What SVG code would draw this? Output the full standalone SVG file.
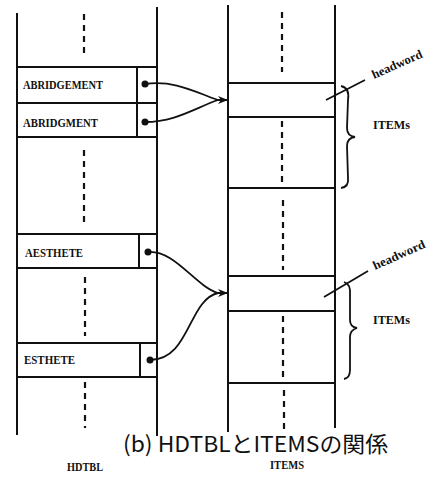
<svg xmlns="http://www.w3.org/2000/svg" width="439" height="477" viewBox="0 0 439 477">
<style>
.ln{stroke:#111;stroke-width:2;fill:none}
.ds{stroke:#111;stroke-width:2.2;fill:none;stroke-dasharray:6 5}
.cv{stroke:#111;stroke-width:1.8;fill:none}
.t{font-family:"Liberation Serif","DejaVu Serif",serif;font-weight:bold;font-size:12.5px;fill:#111}
.cap{font-family:"Noto Sans CJK JP",sans-serif;font-size:22px;fill:#111}
</style>
<defs>
<marker id="ah" viewBox="0 0 10 10" refX="9" refY="5" markerWidth="10" markerHeight="10" markerUnits="userSpaceOnUse" orient="auto">
<path d="M0,1 L10,5 L0,9 L3,5 Z" fill="#111"/>
</marker>
</defs>
<rect width="439" height="477" fill="#fff"/>
<g id="hdtbl">
<path class="ln" d="M17,13 V435 M157,7 V436"/>
<path class="ds" d="M84,14 V56 M84,150 V224 M85,277 V336 M85,382 V428"/>
<text class="t" x="67" y="471" textLength="36" lengthAdjust="spacingAndGlyphs">HDTBL</text>
</g>
<g id="abridgement">
<path class="ln" d="M17,67 H157 M17,103 H157 M137,67 V137"/>
<circle cx="145" cy="84" r="3.5" fill="#111"/>
<text class="t" x="23" y="89" textLength="80" lengthAdjust="spacingAndGlyphs">ABRIDGEMENT</text>
</g>
<g id="abridgment">
<path class="ln" d="M17,137 H157"/>
<circle cx="145" cy="122" r="3.5" fill="#111"/>
<text class="t" x="23" y="127" textLength="75" lengthAdjust="spacingAndGlyphs">ABRIDGMENT</text>
</g>
<g id="aesthete">
<path class="ln" d="M17,234 H157 M17,268 H157 M139,234 V268"/>
<circle cx="148" cy="252" r="3.5" fill="#111"/>
<text class="t" x="25" y="257" textLength="58" lengthAdjust="spacingAndGlyphs">AESTHETE</text>
</g>
<g id="esthete">
<path class="ln" d="M17,343 H157 M17,377 H157 M140,343 V377"/>
<circle cx="150" cy="360" r="3.5" fill="#111"/>
<text class="t" x="24" y="364" textLength="51" lengthAdjust="spacingAndGlyphs">ESTHETE</text>
</g>
<g id="items">
<path class="ln" d="M228,5 V432 M335,5 V428"/>
<path class="ln" d="M228,83 H335 M228,117 H335 M228,188 H335 M228,276 H335 M228,311 H335 M228,383 H335"/>
<path class="ds" d="M282,12 V72 M282,121 V182 M283,200 V270 M283,316 V377 M284,390 V430"/>
<text class="t" x="270" y="469" textLength="34" lengthAdjust="spacingAndGlyphs">ITEMS</text>
</g>
<g id="itemgroup1">
<path class="cv" d="M326,100 L365,80"/>
<text class="t" transform="translate(374,79) rotate(-24)" textLength="54" lengthAdjust="spacingAndGlyphs">headword</text>
<path class="cv" d="M341,86 Q350,88 348,100 L347,128 Q347,136 355,137 Q347,138 347,146 L348,178 Q349,187 341,188"/>
<text class="t" x="373" y="129" textLength="37" lengthAdjust="spacingAndGlyphs">ITEMs</text>
</g>
<g id="itemgroup2">
<path class="cv" d="M324,297 L368,271"/>
<text class="t" transform="translate(375,270) rotate(-24)" textLength="56" lengthAdjust="spacingAndGlyphs">headword</text>
<path class="cv" d="M344,282 Q351,284 350,295 L350,320 Q350,327 357,328 Q350,330 350,337 L350,370 Q350,378 344,379"/>
<text class="t" x="373" y="324" textLength="37" lengthAdjust="spacingAndGlyphs">ITEMs</text>
</g>
<g id="connectors">
<path class="cv" d="M145,84 C175,80 195,92 218,100 L227,100" marker-end="url(#ah)"/>
<path class="cv" d="M145,122 C175,122 195,108 218,100"/>
<path class="cv" d="M148,252 C175,250 195,286 218,293 L227,293" marker-end="url(#ah)"/>
<path class="cv" d="M150,360 C190,360 188,300 218,293"/>
</g>
<text class="cap" x="123" y="452" textLength="265" lengthAdjust="spacingAndGlyphs">(b) HDTBLとITEMSの関係</text>
</svg>
